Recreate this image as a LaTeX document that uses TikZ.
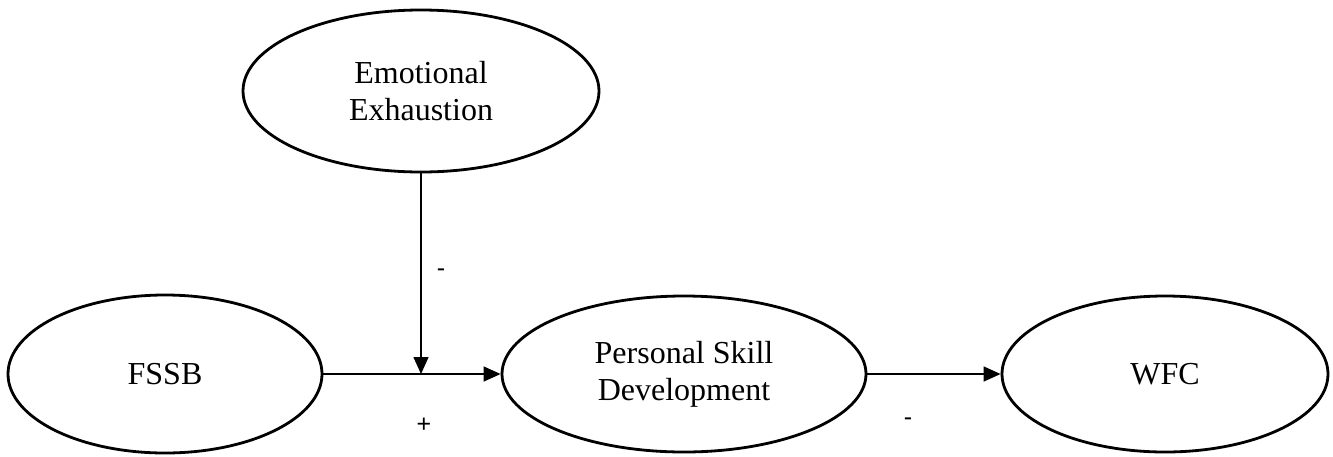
\documentclass[tikz,border=0pt]{standalone}
\usepackage{fontspec}
\setmainfont{Liberation Serif}
\newfontfamily\labelfont{Liberation Sans}
\usetikzlibrary{shapes.geometric,arrows.meta}
\begin{document}
\begin{tikzpicture}[x=1pt,y=-1pt,
  latent/.style={ellipse,draw,line width=2.8pt,inner sep=0pt,align=center,
    font=\fontsize{32}{37}\selectfont},
  conn/.style={line width=1.4pt,-{Triangle[length=17pt,width=15pt]}},
  sign/.style={font=\labelfont\fontsize{25}{28}\selectfont,inner sep=0pt}]
\useasboundingbox (0,0) rectangle (1333,456);
\node[latent,minimum width=356pt,minimum height=162pt] (ee) at (421,91) {Emotional\\Exhaustion};
\node[latent,minimum width=314pt,minimum height=158pt] (fssb) at (165,374) {FSSB};
\node[latent,minimum width=364pt,minimum height=156pt] (psd) at (684,374) {Personal Skill\\Development};
\node[latent,minimum width=326pt,minimum height=156pt] (wfc) at (1165,374) {WFC};
\coordinate (m) at (ee.south |- fssb.east);
\draw[conn] (fssb.east) -- (psd.west);
\draw[conn] (ee.south) -- (m);
\draw[conn] (psd.east) -- (wfc.west);
\node[sign] (s1) at (441,273) {-};
\node[sign] (s2) at (424,425) {+};
\node[sign] (s3) at (908,422) {-};
\end{tikzpicture}
\end{document}
